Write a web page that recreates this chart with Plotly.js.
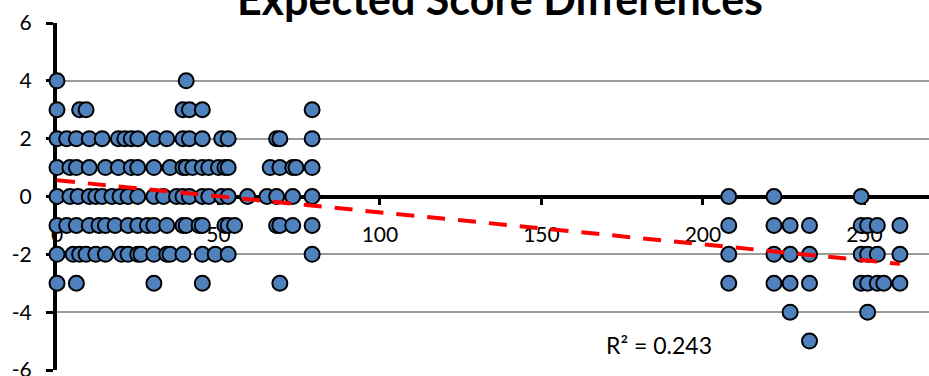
<!DOCTYPE html>
<html>
<head>
<meta charset="utf-8">
<script src="https://cdn.plot.ly/plotly-3.0.1.min.js"></script>
<style>html,body{margin:0;padding:0;background:#fff;}#chart{width:929px;height:376px;}</style>
</head>
<body>
<div id="chart"></div>
<script>
// Score difference levels and the x positions of points at each level
const xAtPlus4 = [0, 40];
const xAtPlus3 = [0, 7, 9, 39, 41, 45, 79];
const xAtPlus2 = [0, 3, 6, 10, 14, 19, 21, 23, 25, 30, 34, 39, 41, 45, 51, 53, 68, 69, 79];
const xAtPlus1 = [0, 4, 6, 10, 15, 19, 23, 25, 30, 35, 39, 40, 42, 45, 47, 50, 52, 53, 66, 69, 73, 74, 79];
const xAtZero  = [0, 4, 6.5, 10, 12, 14, 17, 19.5, 22, 25, 30, 33, 37, 39, 41, 45, 47, 51, 53, 59, 65, 68, 73, 79, 208, 222, 249];
const xAtMinus1 = [0, 3, 6, 10, 13, 15, 18, 22, 25, 28, 30, 34, 39, 40, 44, 45, 52, 53, 55, 68, 69, 73, 79, 208, 222, 227, 233, 249, 251, 254, 261];
const xAtMinus2 = [0, 5, 7, 9, 12, 15, 20, 22, 25, 26, 30, 34, 35, 39, 45, 49, 53, 79, 208, 222, 227, 233, 249, 251, 254, 261];
const xAtMinus3 = [0, 6, 30, 45, 69, 208, 222, 227, 233, 249, 251, 254, 256, 261];
const xAtMinus4 = [227, 251];
const xAtMinus5 = [233];

const levelValues = [4, 3, 2, 1, 0, -1, -2, -3, -4, -5];
const levelXs = [xAtPlus4, xAtPlus3, xAtPlus2, xAtPlus1, xAtZero, xAtMinus1, xAtMinus2, xAtMinus3, xAtMinus4, xAtMinus5];

// Linear trendline endpoints
const trendX = [0, 261];
const trendY = [0.56, -2.33];
const rSquaredText = 'R² = 0.243';

const xTickVals = [0, 50, 100, 150, 200, 250];
const xTickText = ['0', '50', '100', '150', '200', '250'];
const yTickVals = [-6, -4, -2, 0, 2, 4, 6];
const yTickText = ['-6', '-4', '-2', '0', '2', '4', '6'];

const xs = [], ys = [];
levelValues.forEach((lv, i) => levelXs[i].forEach(x => { xs.push(x); ys.push(lv); }));

const font = 'Lato, "Open Sans", sans-serif';

const data = [
  {
    type: 'scatter', mode: 'markers', x: xs, y: ys, cliponaxis: false,
    marker: {size: 15, color: '#4F81BD', line: {color: '#000000', width: 2}},
    hoverinfo: 'x+y', showlegend: false
  },
  {
    type: 'scatter', mode: 'lines', x: trendX, y: trendY, cliponaxis: false,
    line: {color: '#FF0000', width: 4, dash: '18px,13px'},
    showlegend: false
  }
];

const layout = {
  width: 929, height: 376,
  margin: {l: 57, r: 0, t: 23, b: 6},
  paper_bgcolor: '#ffffff', plot_bgcolor: '#ffffff',
  font: {family: font, color: '#000000'},
  title: {
    text: '<b>Expected Score Differences</b>',
    font: {family: font, size: 43, color: '#000000'},
    x: 0.508, xanchor: 'center', xref: 'paper',
    y: 1.0, yref: 'container', yanchor: 'middle'
  },
  xaxis: {
    range: [0, 270], anchor: 'free', position: 0.5,
    tickvals: xTickVals, ticktext: xTickText,
    showline: true, linecolor: '#000000', linewidth: 4,
    ticks: 'outside', ticklen: 6, tickwidth: 3, tickcolor: '#000000',
    ticklabelstandoff: 12,
    tickfont: {family: font, size: 21, color: '#000000'},
    showgrid: false, zeroline: false, layer: 'below traces'
  },
  yaxis: {
    range: [-6, 6],
    tickvals: yTickVals, ticktext: yTickText,
    showline: true, linecolor: '#000000', linewidth: 4,
    ticks: 'outside', ticklen: 7, tickwidth: 3, tickcolor: '#000000',
    ticklabelstandoff: 10, ticklabeloverflow: 'allow',
    tickfont: {family: font, size: 21, color: '#000000'},
    showgrid: true, gridcolor: '#9a9a9a', gridwidth: 2,
    zeroline: false, layer: 'below traces'
  },
  annotations: [{
    text: rSquaredText, x: 169.5, y: -5.15, xref: 'x', yref: 'y',
    xanchor: 'left', yanchor: 'middle', showarrow: false,
    font: {family: font, size: 23, color: '#000000'}
  }]
};

Plotly.newPlot('chart', data, layout, {staticPlot: true, displayModeBar: false});
</script>
</body>
</html>
